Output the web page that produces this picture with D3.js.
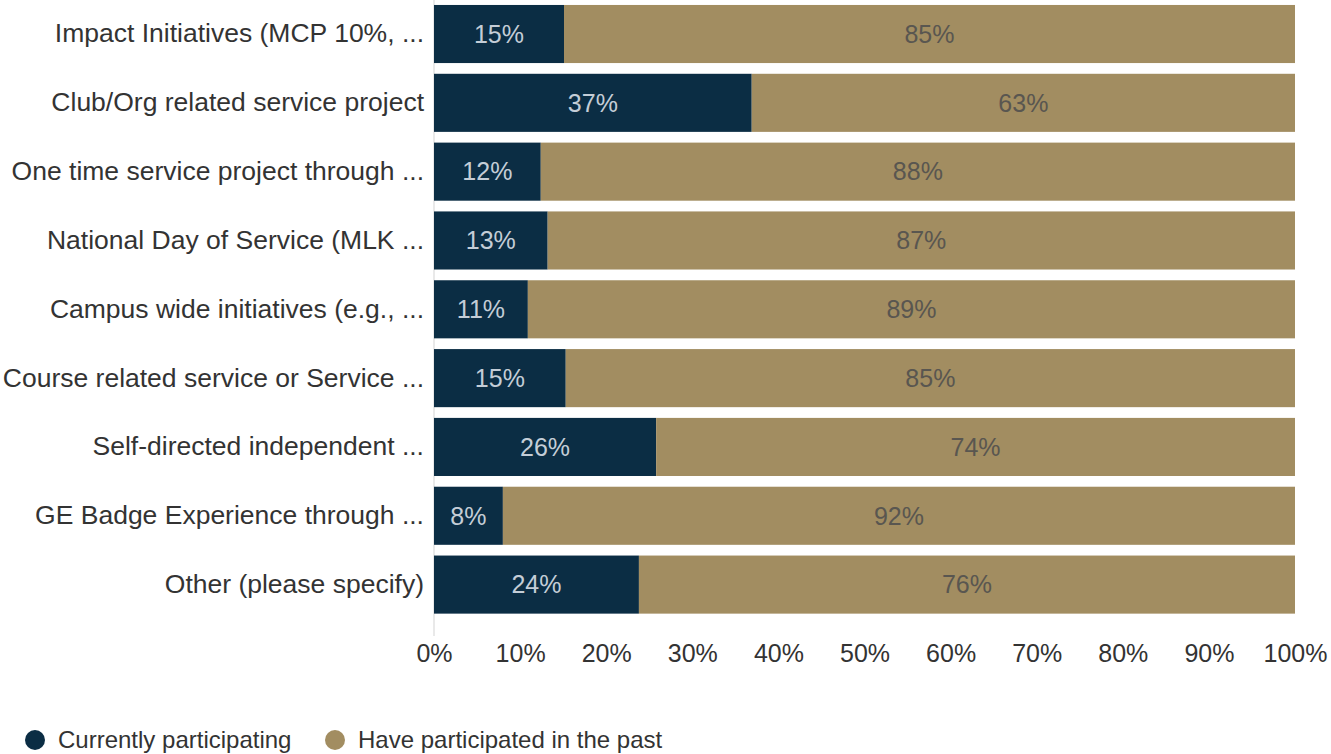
<!DOCTYPE html>
<html>
<head>
<meta charset="utf-8">
<script src="https://cdn.jsdelivr.net/npm/d3@7"></script>
<style>
  body { margin: 0; background: #fff; font-family: "Liberation Sans", Arial, sans-serif; }
  .axis text { fill: #333; }
</style>
</head>
<body>
<svg class="chart" width="1331" height="754"></svg>
<script>
var categories = [
  "Impact Initiatives (MCP 10%, ...",
  "Club/Org related service project",
  "One time service project through ...",
  "National Day of Service (MLK ...",
  "Campus wide initiatives (e.g., ...",
  "Course related service or Service ...",
  "Self-directed independent ...",
  "GE Badge Experience through ...",
  "Other (please specify)"
];
var current = [15.1, 36.9, 12.4, 13.2, 10.9, 15.3, 25.8, 8.0, 23.8];
var past = current.map(function(d) { return 100 - d; });
var seriesNames = ["Currently participating", "Have participated in the past"];
var xTicks = [0, 10, 20, 30, 40, 50, 60, 70, 80, 90, 100];

var colors = ["#0b2d44", "#a28d61"];
var labelColors = ["#c4cdd7", "#595650"];

var svg = d3.select(".chart"),
    margin = { left: 434, right: 36, top: -0.4, bottom: 135 },
    width = +svg.attr("width") - margin.left - margin.right,
    height = +svg.attr("height") - margin.top - margin.bottom;

var x = d3.scaleLinear().domain([0, 100]).range([0, width]);
var y = d3.scaleBand().domain(categories).range([0, height])
  .paddingInner(0.156).paddingOuter(0.078);

var g = svg.append("g")
  .attr("transform", "translate(" + margin.left + "," + margin.top + ")");

// stacked data
var rows = categories.map(function(c, i) {
  return { cat: c, segs: [
    { s: 0, x0: 0, x1: current[i], v: current[i] },
    { s: 1, x0: current[i], x1: 100, v: past[i] }
  ]};
});

// left axis line
g.append("line")
  .attr("x1", 0).attr("x2", 0)
  .attr("y1", 0).attr("y2", height + 17)
  .attr("stroke", "#e2e2e2").attr("stroke-width", 1.5);

var bar = g.selectAll(".row")
  .data(rows)
  .enter().append("g")
  .attr("class", "row")
  .attr("transform", function(d) { return "translate(0," + y(d.cat) + ")"; });

bar.selectAll("rect")
  .data(function(d) { return d.segs; })
  .enter().append("rect")
  .attr("x", function(d) { return x(d.x0); })
  .attr("width", function(d) { return x(d.x1) - x(d.x0); })
  .attr("height", y.bandwidth())
  .attr("fill", function(d) { return colors[d.s]; });

bar.selectAll("text")
  .data(function(d) { return d.segs; })
  .enter().append("text")
  .attr("x", function(d) { return (x(d.x0) + x(d.x1)) / 2; })
  .attr("y", y.bandwidth() / 2)
  .attr("dy", "0.35em")
  .attr("text-anchor", "middle")
  .attr("font-size", "25px")
  .attr("fill", function(d) { return labelColors[d.s]; })
  .text(function(d) { return Math.round(d.v) + "%"; });

// category labels
var yAxis = g.append("g")
  .attr("class", "axis")
  .call(d3.axisLeft(y).tickSize(0).tickPadding(10));
yAxis.select(".domain").remove();
yAxis.selectAll("text").attr("font-size", "26.5px");

// x axis
var xAxis = g.append("g")
  .attr("class", "axis")
  .attr("transform", "translate(0," + (height + 25) + ")")
  .call(d3.axisBottom(x).tickValues(xTicks).tickSize(0).tickPadding(0)
    .tickFormat(function(d) { return d + "%"; }));
xAxis.select(".domain").remove();
xAxis.selectAll("text").attr("font-size", "25px");

// legend
var legend = svg.append("g")
  .attr("transform", "translate(0,740)");
var legX = [35, 335];
var item = legend.selectAll(".leg")
  .data(seriesNames)
  .enter().append("g")
  .attr("transform", function(d, i) { return "translate(" + legX[i] + ",0)"; });
item.append("circle")
  .attr("r", 10)
  .attr("fill", function(d, i) { return colors[i]; });
item.append("text")
  .attr("x", 23)
  .attr("dy", "0.35em")
  .attr("font-size", "24px")
  .attr("fill", "#333")
  .text(function(d) { return d; });
</script>
</body>
</html>
